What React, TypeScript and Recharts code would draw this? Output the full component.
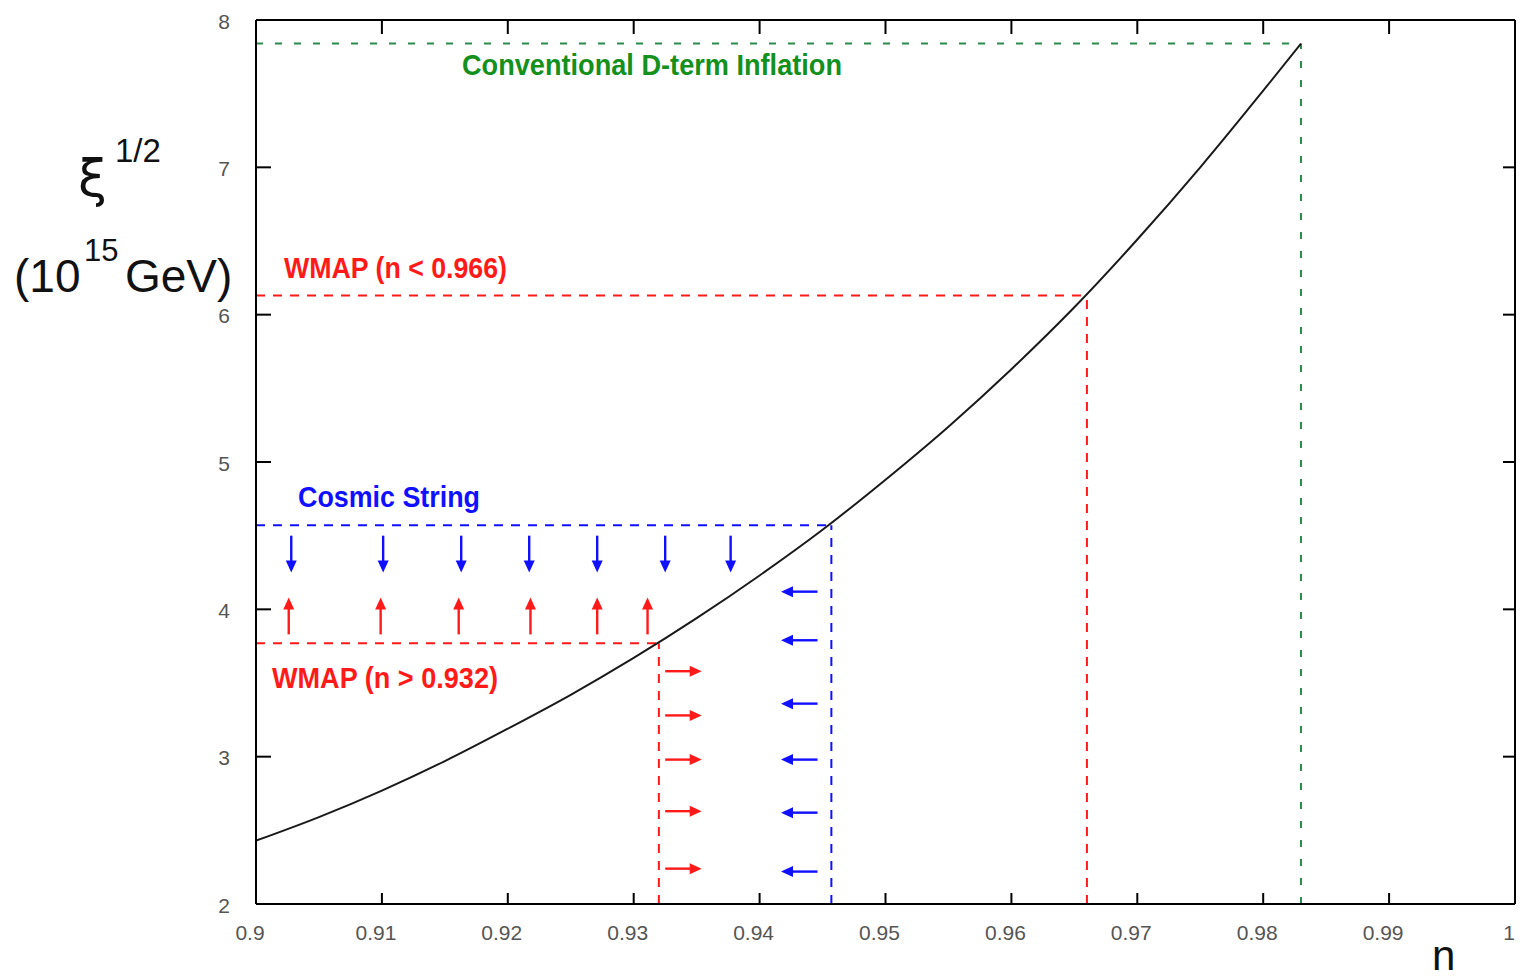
import React from "react";
import { Line, LineChart, ReferenceLine, XAxis, YAxis } from "recharts";

// ξ^{1/2} (10^15 GeV) as a function of the spectral index n
const N_VALUES = [
  0.9, 0.905, 0.91, 0.915, 0.92, 0.925, 0.93, 0.935, 0.94, 0.945, 0.95, 0.955, 0.96, 0.965, 0.97,
  0.975, 0.98, 0.983,
];
const XI_VALUES = [
  2.43, 2.59, 2.77, 2.97, 3.19, 3.42, 3.67, 3.94, 4.23, 4.54, 4.88, 5.24, 5.63, 6.05, 6.51, 7.0,
  7.52, 7.84,
];

const X_TICKS = [0.9, 0.91, 0.92, 0.93, 0.94, 0.95, 0.96, 0.97, 0.98, 0.99, 1];
const Y_TICKS = [2, 3, 4, 5, 6, 7, 8];

// bounds: [n, ξ^{1/2}] where each constraint meets the curve
const CONVENTIONAL_BOUND = [0.983, 7.84];
const WMAP_UPPER_BOUND = [0.966, 6.13];
const COSMIC_STRING_BOUND = [0.9457, 4.57];
const WMAP_LOWER_BOUND = [0.932, 3.77];

// arrows pointing into the allowed window
const BLUE_DOWN_N = [0.9028, 0.9101, 0.9163, 0.9217, 0.9271, 0.9325, 0.9377];
const BLUE_DOWN_XI = [4.5, 4.25];
const RED_UP_N = [0.9026, 0.9099, 0.9161, 0.9218, 0.9271, 0.9311];
const RED_UP_XI = [3.83, 4.08];
const BLUE_LEFT_XI = [4.12, 3.79, 3.36, 2.98, 2.62, 2.22];
const BLUE_LEFT_N = [0.9446, 0.9417];
const RED_RIGHT_XI = [3.58, 3.28, 2.98, 2.63, 2.24];
const RED_RIGHT_N = [0.9325, 0.9354];

const RED = "#ff1a1a";
const BLUE = "#1010ff";
const GREEN_LINE = "#2a8c4a";
const GREEN_TEXT = "#14901c";

const CURVE = N_VALUES.map((n, i) => ({ n, xi: XI_VALUES[i] }));

const fmt = (v: number) => String(Number(v.toFixed(2)));

function XTick({ x, y, payload }: any) {
  return (
    <text
      x={x - 6}
      y={y}
      dy="0.71em"
      textAnchor="middle"
      fill="#555"
      fontSize={21}
      fontFamily="Liberation Sans, Arial, sans-serif"
    >
      {fmt(payload.value)}
    </text>
  );
}

function YTick({ x, y, payload }: any) {
  return (
    <text
      x={x}
      y={y}
      dy="0.42em"
      textAnchor="end"
      fill="#555"
      fontSize={21}
      fontFamily="Liberation Sans, Arial, sans-serif"
    >
      {payload.value}
    </text>
  );
}

// mirrored axes keep their tick marks but carry no labels
const NoLabel = () => <g />;

// straight shaft with a filled head at (x2, y2)
function Arrow(props: any) {
  const { x1, y1, x2, y2, stroke } = props;
  const dx = x2 - x1;
  const dy = y2 - y1;
  const len = Math.hypot(dx, dy) || 1;
  const ux = dx / len;
  const uy = dy / len;
  const head = 12;
  const half = 5.5;
  const bx = x2 - ux * head;
  const by = y2 - uy * head;
  const pts = `${x2},${y2} ${bx - uy * half},${by + ux * half} ${bx + uy * half},${by - ux * half}`;
  return (
    <g>
      <line x1={x1} y1={y1} x2={bx + ux} y2={by + uy} stroke={stroke} strokeWidth={2.4} />
      <polygon points={pts} fill={stroke} />
    </g>
  );
}

function boundLines(bound: number[], color: string, dash: string, key: string) {
  const [n, xi] = bound;
  return [
    <ReferenceLine
      key={`${key}-h`}
      segment={[
        { x: 0.9, y: xi },
        { x: n, y: xi },
      ]}
      stroke={color}
      strokeWidth={2}
      strokeDasharray={dash}
    />,
    <ReferenceLine
      key={`${key}-v`}
      segment={[
        { x: n, y: 2 },
        { x: n, y: xi },
      ]}
      stroke={color}
      strokeWidth={2}
      strokeDasharray={dash}
    />,
  ];
}

const annotation = {
  fontFamily: "Liberation Sans Narrow, Liberation Sans, Arial, sans-serif",
  fontWeight: 700,
  lengthAdjust: "spacingAndGlyphs",
} as const;

export default function App() {
  const axisLine = { stroke: "#000", strokeWidth: 2 };
  return (
    <div style={{ position: "relative", width: 1520, height: 979, background: "#fff" }}>
      <style>{"body{margin:0}"}</style>
      <LineChart
        width={1520}
        height={979}
        data={CURVE}
        margin={{ top: 19, right: 4, bottom: 35, left: 196 }}
      >
        <XAxis
          dataKey="n"
          type="number"
          domain={[0.9, 1]}
          ticks={X_TICKS}
          allowDataOverflow
          height={40}
          tickSize={-11}
          tickMargin={32}
          axisLine={axisLine}
          tickLine={axisLine}
          tick={<XTick />}
          interval={0}
        />
        <XAxis
          xAxisId="top"
          orientation="top"
          dataKey="n"
          type="number"
          domain={[0.9, 1]}
          ticks={X_TICKS}
          allowDataOverflow
          height={1}
          tickSize={-14}
          axisLine={axisLine}
          tickLine={axisLine}
          tick={<NoLabel />}
          interval={0}
        />
        <YAxis
          type="number"
          domain={[2, 8]}
          ticks={Y_TICKS}
          allowDataOverflow
          width={60}
          tickSize={-15}
          tickMargin={41}
          axisLine={axisLine}
          tickLine={axisLine}
          tick={<YTick />}
          interval={0}
        />
        <YAxis
          yAxisId="right"
          orientation="right"
          type="number"
          domain={[2, 8]}
          ticks={Y_TICKS}
          allowDataOverflow
          width={1}
          tickSize={-12}
          axisLine={axisLine}
          tickLine={axisLine}
          tick={<NoLabel />}
          interval={0}
        />

        {boundLines(CONVENTIONAL_BOUND, GREEN_LINE, "7 12", "conv")}
        {boundLines(WMAP_UPPER_BOUND, RED, "9 8", "wmap-up")}
        {boundLines(COSMIC_STRING_BOUND, BLUE, "9 8", "cs")}
        {boundLines(WMAP_LOWER_BOUND, RED, "9 8", "wmap-lo")}

        {BLUE_DOWN_N.map((n) => (
          <ReferenceLine
            key={`bd-${n}`}
            segment={[
              { x: n, y: BLUE_DOWN_XI[0] },
              { x: n, y: BLUE_DOWN_XI[1] },
            ]}
            stroke={BLUE}
            shape={Arrow}
          />
        ))}
        {RED_UP_N.map((n) => (
          <ReferenceLine
            key={`ru-${n}`}
            segment={[
              { x: n, y: RED_UP_XI[0] },
              { x: n, y: RED_UP_XI[1] },
            ]}
            stroke={RED}
            shape={Arrow}
          />
        ))}
        {BLUE_LEFT_XI.map((xi) => (
          <ReferenceLine
            key={`bl-${xi}`}
            segment={[
              { x: BLUE_LEFT_N[0], y: xi },
              { x: BLUE_LEFT_N[1], y: xi },
            ]}
            stroke={BLUE}
            shape={Arrow}
          />
        ))}
        {RED_RIGHT_XI.map((xi) => (
          <ReferenceLine
            key={`rr-${xi}`}
            segment={[
              { x: RED_RIGHT_N[0], y: xi },
              { x: RED_RIGHT_N[1], y: xi },
            ]}
            stroke={RED}
            shape={Arrow}
          />
        ))}

        <Line
          dataKey="xi"
          type="monotone"
          stroke="#1a1a1a"
          strokeWidth={2}
          dot={false}
          activeDot={false}
          isAnimationActive={false}
        />
      </LineChart>

      <svg
        width={1520}
        height={979}
        style={{ position: "absolute", left: 0, top: 0, pointerEvents: "none" }}
      >
        <text x={462} y={75} fontSize={30} fill={GREEN_TEXT} textLength={380} {...annotation}>
          Conventional D-term Inflation
        </text>
        <text x={284} y={278} fontSize={29} fill={RED} textLength={223} {...annotation}>
          WMAP (n &lt; 0.966)
        </text>
        <text x={298} y={507} fontSize={29} fill={BLUE} textLength={182} {...annotation}>
          Cosmic String
        </text>
        <text x={272} y={688} fontSize={29} fill={RED} textLength={226} {...annotation}>
          WMAP (n &gt; 0.932)
        </text>

        <g fontFamily="Liberation Sans, Arial, sans-serif" fill="#111">
          <text x={78} y={196} fontSize={52} fontFamily="DejaVu Sans, sans-serif">
            ξ
          </text>
          <text x={115} y={162} fontSize={33}>
            1/2
          </text>
          <text x={14} y={292} fontSize={46}>
            (10
          </text>
          <text x={84} y={261} fontSize={31}>
            15
          </text>
          <text x={125} y={292} fontSize={46}>
            GeV)
          </text>
          <text x={1432} y={970} fontSize={42}>
            n
          </text>
        </g>
      </svg>
    </div>
  );
}
